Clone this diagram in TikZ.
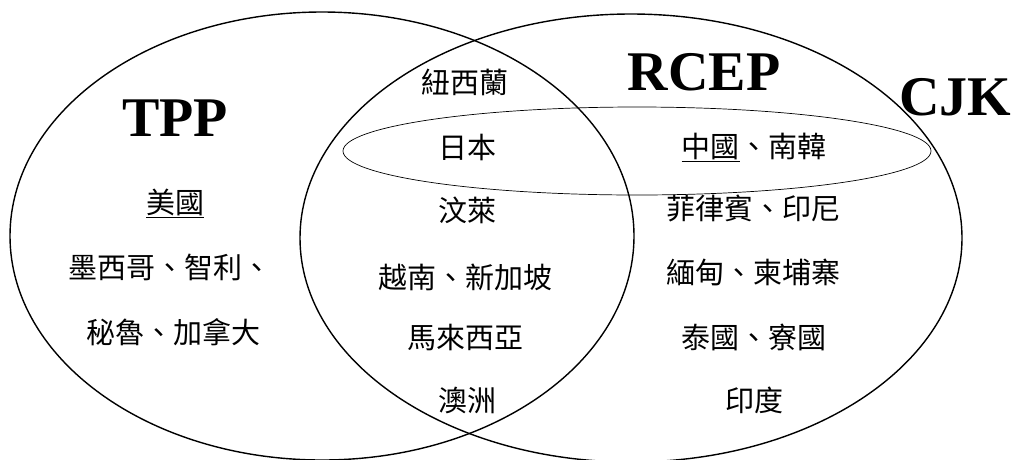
\documentclass[tikz,border=0pt]{standalone}
\usepackage{fontspec}
\setmainfont{Liberation Serif}
\newfontfamily\cjk{Noto Sans CJK TC}
\usepackage{tikz}

\begin{document}
\begin{tikzpicture}[x=1pt, y=-1pt, outer sep=0pt, inner sep=0pt,
  bloc/.style={font=\fontsize{56}{60}\selectfont\bfseries},
  land/.style={font=\cjk\fontsize{29}{34}\selectfont},
  big/.style={line width=1.4pt},
  small/.style={line width=0.7pt}]

\useasboundingbox (0, 0) rectangle (1011, 459);
\clip (0, 0) rectangle (1011, 459);

% the three groups
\draw [big] (322, 236) ellipse [x radius=312, y radius=224];
\draw [big] (631, 238) ellipse [x radius=331, y radius=224];
\draw [small] (637, 151) ellipse [x radius=294, y radius=44];

\node [bloc] at (175, 118) (TPP) {TPP};
\node [bloc] at (704, 72) (RCEP) {RCEP};
\node [bloc] at (955, 97) (CJK) {CJK};

% TPP only
\node [land] at (175, 203) (US) {\underline{美國}};
\node [land] at (170, 267) (MX_CL) {墨西哥、智利、};
\node [land] at (173, 332) (PE_CA) {秘魯、加拿大};

% both
\node [land] at (465, 82) (NZ) {紐西蘭};
\node [land] at (467, 147) (JP) {日本};
\node [land] at (467, 210) (BN) {汶萊};
\node [land] at (465, 277) (VN_SG) {越南、新加坡};
\node [land] at (465, 337) (MY) {馬來西亞};
\node [land] at (467, 400) (AU) {澳洲};

% RCEP only
\node [land] at (754, 147) (CN_KR) {\underline{中國}、南韓};
\node [land] at (753, 208) (PH_ID) {菲律賓、印尼};
\node [land] at (753, 272) (MM_KH) {緬甸、柬埔寨};
\node [land] at (754, 337) (TH_LA) {泰國、寮國};
\node [land] at (754, 400) (IN) {印度};
\end{tikzpicture}
\end{document}
